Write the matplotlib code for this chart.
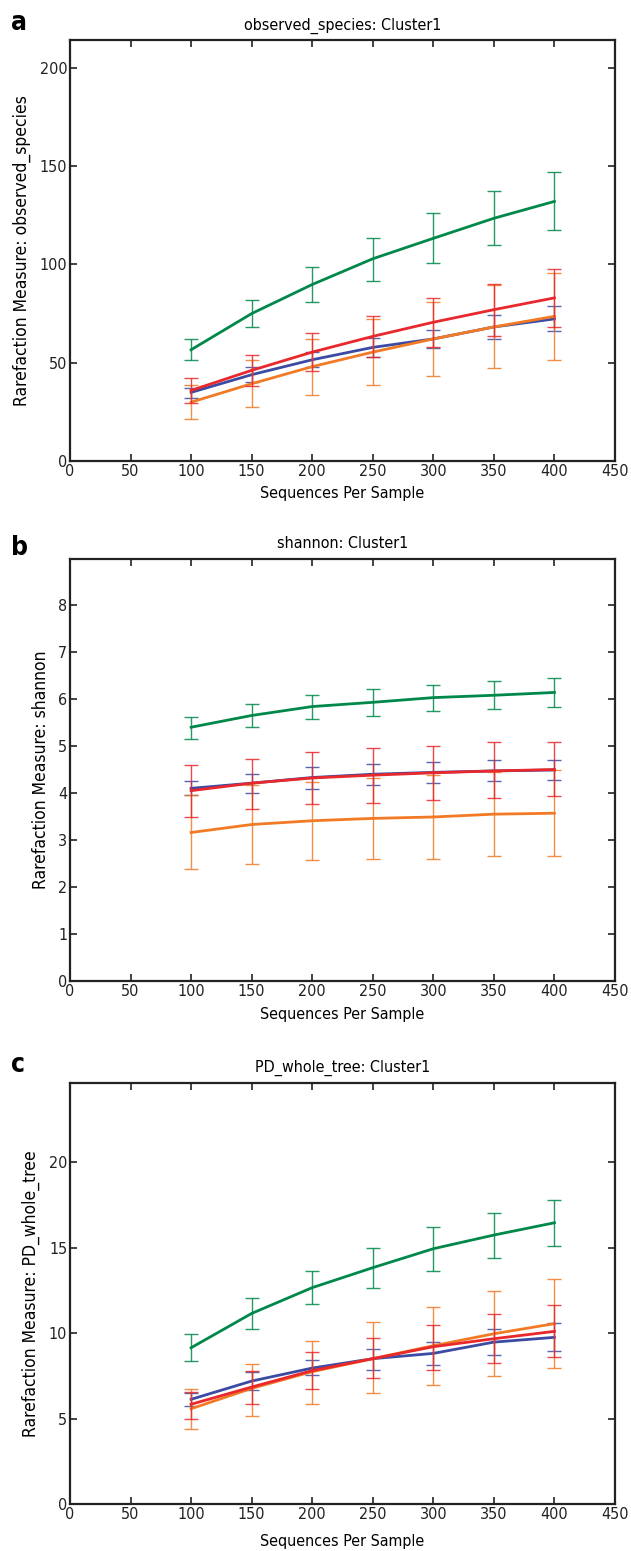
import matplotlib
matplotlib.use('Agg')
import matplotlib.pyplot as plt
import numpy as np

plt.rcParams['font.family'] = ['DejaVu Sans']
plt.rcParams['font.stretch'] = 'condensed'

depths = [100, 150, 200, 250, 300, 350, 400]

# panel a: observed_species (mean, lower, upper)
obs_green = [56.6, 75.0, 89.8, 102.9, 113.3, 123.5, 132.1]
obs_green_lo = [51.4, 68.0, 81.0, 91.7, 100.5, 109.8, 117.3]
obs_green_hi = [62.0, 82.0, 98.8, 113.6, 126.2, 137.4, 147.3]
obs_red = [35.9, 46.1, 55.4, 63.4, 70.6, 77.0, 83.0]
obs_red_lo = [29.4, 38.0, 45.8, 53.0, 58.0, 63.4, 68.2]
obs_red_hi = [42.0, 54.0, 65.0, 74.0, 83.0, 90.3, 97.8]
obs_blue = [34.9, 43.9, 51.5, 57.8, 62.1, 68.2, 72.3]
obs_blue_lo = [32.1, 40.0, 47.8, 53.0, 57.5, 62.1, 66.0]
obs_blue_hi = [37.2, 47.8, 55.3, 62.6, 66.7, 74.3, 79.0]
obs_orange = [29.9, 39.3, 48.0, 55.4, 62.1, 68.2, 73.6]
obs_orange_lo = [21.3, 27.7, 33.5, 38.6, 43.0, 47.1, 51.2]
obs_orange_hi = [38.6, 51.2, 62.2, 72.4, 81.0, 89.3, 95.8]

# panel b: shannon
sh_green = [5.40, 5.65, 5.84, 5.93, 6.03, 6.08, 6.14]
sh_green_lo = [5.16, 5.40, 5.58, 5.64, 5.74, 5.78, 5.84]
sh_green_hi = [5.62, 5.89, 6.09, 6.22, 6.30, 6.38, 6.44]
sh_red = [4.05, 4.21, 4.32, 4.38, 4.43, 4.47, 4.50]
sh_red_lo = [3.50, 3.67, 3.77, 3.79, 3.86, 3.89, 3.93]
sh_red_hi = [4.59, 4.73, 4.88, 4.95, 5.01, 5.08, 5.09]
sh_blue = [4.10, 4.21, 4.33, 4.40, 4.44, 4.47, 4.49]
sh_blue_lo = [3.96, 4.01, 4.09, 4.18, 4.21, 4.25, 4.27]
sh_blue_hi = [4.25, 4.41, 4.56, 4.61, 4.67, 4.70, 4.71]
sh_orange = [3.16, 3.33, 3.41, 3.46, 3.49, 3.55, 3.57]
sh_orange_lo = [2.38, 2.49, 2.57, 2.59, 2.59, 2.65, 2.66]
sh_orange_hi = [3.96, 4.17, 4.24, 4.33, 4.39, 4.45, 4.48]

# panel c: PD_whole_tree
pd_green = [9.15, 11.16, 12.67, 13.84, 14.95, 15.75, 16.47]
pd_green_lo = [8.35, 10.23, 11.69, 12.67, 13.64, 14.42, 15.09]
pd_green_hi = [9.97, 12.06, 13.64, 15.01, 16.20, 17.06, 17.82]
pd_red = [5.84, 6.85, 7.81, 8.51, 9.21, 9.68, 10.11]
pd_red_lo = [4.98, 5.87, 6.71, 7.36, 7.83, 8.24, 8.61]
pd_red_hi = [6.58, 7.79, 8.92, 9.70, 10.50, 11.12, 11.63]
pd_blue = [6.13, 7.20, 7.96, 8.51, 8.82, 9.48, 9.76]
pd_blue_lo = [5.76, 6.67, 7.53, 7.86, 8.14, 8.72, 8.96]
pd_blue_hi = [6.50, 7.75, 8.41, 9.07, 9.50, 10.23, 10.60]
pd_orange = [5.58, 6.77, 7.75, 8.51, 9.27, 9.97, 10.56]
pd_orange_lo = [4.37, 5.15, 5.87, 6.48, 6.99, 7.47, 7.94]
pd_orange_hi = [6.71, 8.21, 9.56, 10.66, 11.51, 12.45, 13.19]

colors = {'blue': '#3b4ba3', 'orange': '#f27a24', 'red': '#e8282c', 'green': '#00884a'}

panels = [
    ('a', 'observed_species: Cluster1', 'Rarefaction Measure: observed_species', 214, [0, 50, 100, 150, 200],
     {'blue': (obs_blue, obs_blue_lo, obs_blue_hi), 'orange': (obs_orange, obs_orange_lo, obs_orange_hi),
      'red': (obs_red, obs_red_lo, obs_red_hi), 'green': (obs_green, obs_green_lo, obs_green_hi)},
     [0.1109, 0.7028, 0.8637, 0.2711], 30, 5),
    ('b', 'shannon: Cluster1', 'Rarefaction Measure: shannon', 8.98, list(range(0, 9)),
     {'blue': (sh_blue, sh_blue_lo, sh_blue_hi), 'orange': (sh_orange, sh_orange_lo, sh_orange_hi),
      'red': (sh_red, sh_red_lo, sh_red_hi), 'green': (sh_green, sh_green_lo, sh_green_hi)},
     [0.1109, 0.3675, 0.8637, 0.2721], 555, 6),
    ('c', 'PD_whole_tree: Cluster1', 'Rarefaction Measure: PD_whole_tree', 24.67, [0, 5, 10, 15, 20],
     {'blue': (pd_blue, pd_blue_lo, pd_blue_hi), 'orange': (pd_orange, pd_orange_lo, pd_orange_hi),
      'red': (pd_red, pd_red_lo, pd_red_hi), 'green': (pd_green, pd_green_lo, pd_green_hi)},
     [0.1109, 0.0303, 0.8637, 0.2716], 1072, 9),
]

fig = plt.figure(figsize=(6.31, 15.51), dpi=100)

for letter, title, ylabel, ytop, yticks, series, rect, ybase, xpad in panels:
    ax = fig.add_axes(rect)
    for name in ['blue', 'orange', 'red', 'green']:
        m, lo, hi = series[name]
        m = np.array(m)
        err = [m - np.array(lo), np.array(hi) - m]
        ax.errorbar(depths, m, yerr=err, fmt='none', ecolor=colors[name], elinewidth=1.0,
                    capsize=5, capthick=1.0, alpha=0.85)
        ax.plot(depths, m, color=colors[name], lw=2.0)
    ax.set_xlim(0, 450)
    ax.set_ylim(0, ytop)
    ax.set_xticks(range(0, 451, 50))
    ax.set_yticks(yticks)
    ax.tick_params(direction='in', top=True, right=True, length=5, width=1.2,
                   labelsize=11.5, pad=2, colors='#222222')
    for s in ax.spines.values():
        s.set_linewidth(1.6)
        s.set_color('#222222')
    ax.set_title(title, fontsize=11.5, pad=8)
    ax.set_xlabel('Sequences Per Sample', fontsize=11.5, labelpad=xpad)
    ax.set_ylabel(ylabel, fontsize=12.5, labelpad=6)
    fig.text(11 / 631, 1 - ybase / 1551, letter, fontsize=19, fontweight='bold',
             family='Liberation Sans Narrow', va='baseline', ha='left')

fig.savefig('out.png', dpi=100)
